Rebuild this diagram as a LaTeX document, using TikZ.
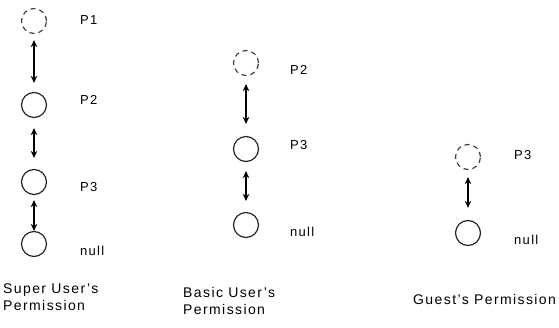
\documentclass[tikz,border=0pt]{standalone}
\usepackage{fontspec}
\setmainfont{Liberation Sans}[LetterSpace=10]
\usetikzlibrary{arrows.meta}
\begin{document}
\begin{tikzpicture}[x=1pt,y=-1pt,
  every node/.style={inner sep=0pt},
  perm/.style={circle,draw=black!85,line width=1.2pt,minimum size=25pt},
  perm hidden/.style={perm,dash pattern=on 5pt off 4pt,draw=black!75},
  lbl/.style={anchor=west,font=\fontsize{13}{15}\selectfont},
  caption text/.style={anchor=north west,align=left,font=\fontsize{14}{17}\selectfont},
  link/.style={line width=1.5pt,{Stealth[length=7pt,width=6.5pt]}-{Stealth[length=7pt,width=6.5pt]},shorten <=6pt,shorten >=9pt}]
\useasboundingbox (0,0) rectangle (559,327);

% super user chain
\node[perm hidden] (s1) at (34,21) {};
\node[perm] (s2) at (34,105) {};
\node[perm] (s3) at (34,182) {};
\node[perm] (s4) at (34,244) {};
\node[lbl] (ts1) at (80,20) {P1};
\node[lbl] (ts2) at (80,100) {P2};
\node[lbl] (ts3) at (80,187) {P3};
\node[lbl] (ts4) at (80,251) {null};
\draw[link] (s1) -- (s2);
\draw[link,shorten <=10pt,shorten >=11pt] (s2) -- (s3);
\draw[link,shorten <=5pt,shorten >=0pt] (s3) -- (s4);
\node[caption text] (cs) at (3,284) {Super User's\\Permission};

% basic user chain
\node[perm hidden] (b1) at (246,63) {};
\node[perm] (b2) at (246,149) {};
\node[perm] (b3) at (246,225) {};
\node[lbl] (tb1) at (290,70) {P2};
\node[lbl] (tb2) at (290,145) {P3};
\node[lbl] (tb3) at (290,232) {null};
\draw[link,shorten <=8pt,shorten >=12pt] (b1) -- (b2);
\draw[link,shorten <=9pt,shorten >=11pt] (b2) -- (b3);
\node[caption text] (cb) at (183,287) {Basic User's\\Permission};

% guest chain
\node[perm hidden] (g1) at (468,157) {};
\node[perm] (g2) at (468,233) {};
\node[lbl] (tg1) at (514,155) {P3};
\node[lbl] (tg2) at (514,240) {null};
\draw[link,shorten <=7pt,shorten >=12pt] (g1) -- (g2);
\node[caption text] (cg) at (413,294) {Guest's Permission};
\end{tikzpicture}
\end{document}
